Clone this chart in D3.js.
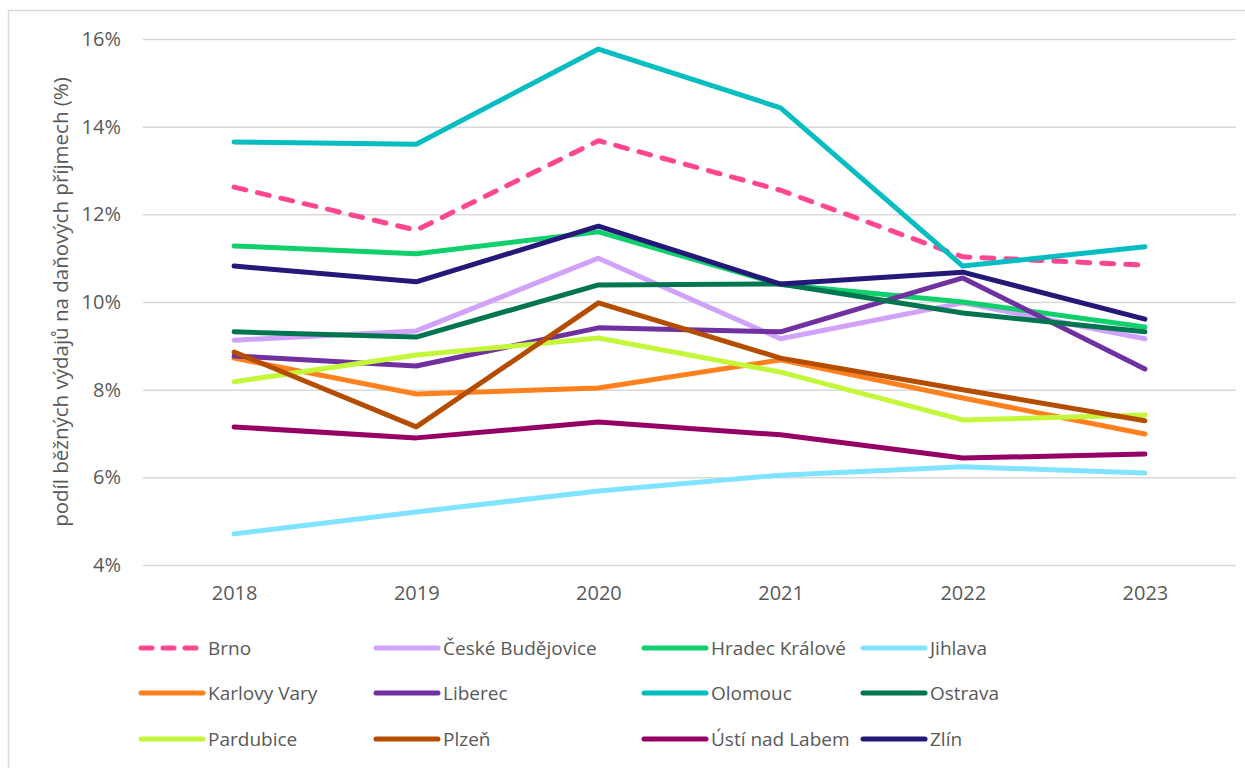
<!DOCTYPE html>
<html>
<head>
<meta charset="utf-8">
<script src="https://cdn.jsdelivr.net/npm/d3@7"></script>
<style>
  body { margin: 0; background: #fff; }
  svg { display: block; font-family: "Open Sans", sans-serif; }
</style>
</head>
<body>
<div id="chart"></div>
<script>
// data (% share)
const years = ["2018", "2019", "2020", "2021", "2022", "2023"];
const cities = ["Brno", "České Budějovice", "Hradec Králové", "Jihlava",
                "Karlovy Vary", "Liberec", "Olomouc", "Ostrava",
                "Pardubice", "Plzeň", "Ústí nad Labem", "Zlín"];
const brno        = [12.62, 11.64, 13.68, 12.55, 11.03, 10.84];
const budejovice  = [9.13, 9.34, 11.0, 9.16, 9.98, 9.16];
const hradec      = [11.28, 11.1, 11.6, 10.4, 10.0, 9.43];
const jihlava     = [4.71, 5.21, 5.69, 6.05, 6.24, 6.1];
const karlovyVary = [8.72, 7.9, 8.04, 8.68, 7.81, 6.99];
const liberec     = [8.77, 8.54, 9.41, 9.32, 10.55, 8.47];
const olomouc     = [13.65, 13.6, 15.77, 14.43, 10.82, 11.26];
const ostrava     = [9.32, 9.2, 10.39, 10.41, 9.75, 9.32];
const pardubice   = [8.18, 8.79, 9.18, 8.4, 7.31, 7.42];
const plzen       = [8.86, 7.15, 9.98, 8.72, 8.0, 7.29];
const usti        = [7.15, 6.9, 7.26, 6.97, 6.44, 6.53];
const zlin        = [10.82, 10.46, 11.73, 10.41, 10.68, 9.61];
const yTicks = [4, 6, 8, 10, 12, 14, 16];

const values = [brno, budejovice, hradec, jihlava, karlovyVary, liberec,
                olomouc, ostrava, pardubice, plzen, usti, zlin];
const colors = ["#FF4690", "#D0A2FA", "#10D06D", "#80E3FF", "#FF801F", "#7030A0",
                "#06BDC1", "#00754F", "#C4F63A", "#B54D00", "#960064", "#241878"];

const series = cities.map((c, i) => ({
  name: c,
  color: colors[i],
  dashed: i === 0,
  points: years.map((y, j) => ({year: y, value: values[i][j]}))
}));

const W = 1245, H = 768;
const margin = {top: 39, right: 9, bottom: 203, left: 143};
const width = W - margin.left - margin.right,
      height = H - margin.top - margin.bottom;

const svg = d3.select("#chart").append("svg")
    .attr("width", W).attr("height", H);

// outer chart border
svg.append("rect")
    .attr("x", 8.5).attr("y", 10.5)
    .attr("width", W).attr("height", H)
    .attr("fill", "none").attr("stroke", "#D9D9D9").attr("stroke-width", 1.5);

const g = svg.append("g")
    .attr("transform", "translate(" + margin.left + "," + margin.top + ")");

let x = d3.scalePoint().domain(years).range([0, width]).padding(0.5);
let y = d3.scaleLinear().domain([4, 16]).range([height, 0]);

// gridlines + y tick labels
g.append("g")
  .call(d3.axisLeft(y).tickValues(yTicks).tickSize(-width).tickFormat(d => d + "%").tickPadding(22))
  .call(a => a.select(".domain").remove())
  .call(a => a.selectAll(".tick line").attr("stroke", "#D9D9D9").attr("stroke-width", 1.5))
  .call(a => a.selectAll(".tick text")
      .attr("fill", "#595959").style("font-size", "20px").style("font-family", "Open Sans"));

// x axis labels
g.append("g")
  .attr("transform", "translate(0," + height + ")")
  .call(d3.axisBottom(x).tickSize(0).tickPadding(21))
  .call(a => a.select(".domain").remove())
  .call(a => a.selectAll(".tick text")
      .attr("fill", "#595959").style("font-size", "20px").style("font-family", "Open Sans"));

// y title
svg.append("text")
  .attr("transform", "translate(61," + (margin.top + height / 2) + ")rotate(-90)")
  .attr("text-anchor", "middle")
  .attr("dy", "0.35em")
  .attr("fill", "#595959")
  .style("font-size", "20.5px")
  .text("podíl běžných výdajů na daňových příjmech (%)");

const line = d3.line().x(d => x(d.year)).y(d => y(d.value));

g.selectAll(".series")
  .data(series)
  .enter()
  .append("path")
    .attr("class", "series")
    .attr("d", d => line(d.points))
    .attr("fill", "none")
    .attr("stroke", d => d.color)
    .attr("stroke-width", 5)
    .attr("stroke-linecap", "round")
    .attr("stroke-linejoin", "round")
    .attr("stroke-dasharray", d => d.dashed ? "12,12" : null);

// legend: 4 columns x 3 rows
const colX = [140, 375, 643, 862];
const rowY = [648, 693, 739];
const leg = svg.append("g").selectAll("g")
  .data(series)
  .enter()
  .append("g")
    .attr("transform", (d, i) => "translate(" + colX[i % 4] + "," + rowY[Math.floor(i / 4)] + ")");

leg.append("line")
  .attr("x1", 1).attr("x2", 63)
  .attr("stroke", d => d.color)
  .attr("stroke-width", 5)
  .attr("stroke-linecap", "round")
  .attr("stroke-dasharray", d => d.dashed ? "11,11" : null);

leg.append("text")
  .attr("x", 68)
  .attr("dy", "0.35em")
  .attr("fill", "#595959")
  .style("font-size", "19px")
  .text(d => d.name);
</script>
</body>
</html>
